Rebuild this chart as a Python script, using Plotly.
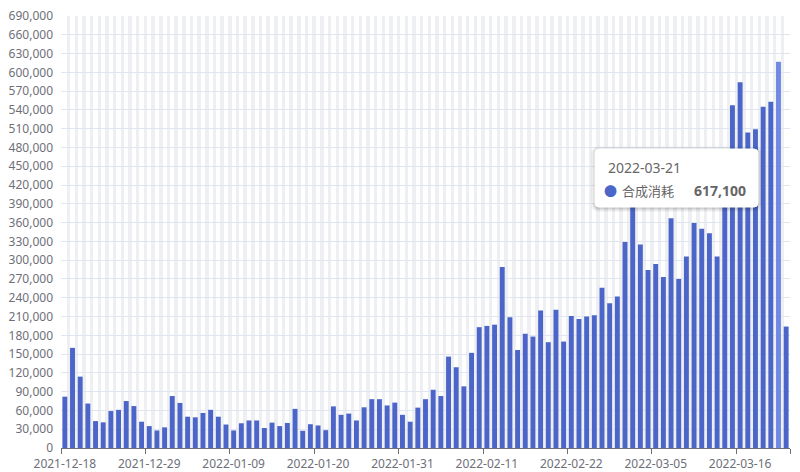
import plotly.graph_objects as go
import pandas as pd

# ---- data ----
dates = [d.strftime("%Y-%m-%d") for d in pd.date_range("2021-12-18", "2022-03-22", freq="D")]
values = [
    # 2021-12-18 .. 2021-12-31
    82000, 160000, 114000, 71000, 43000, 41000, 59000, 61000, 75000, 67000, 42000, 35000, 28000, 33000,
    # 2022-01
    83000, 72000, 50000, 49000, 56000, 61000, 50000, 37500, 28000, 39500,
    44000, 44000, 32000, 40500, 35000, 40000, 62500, 27500, 38000, 36000,
    28500, 66500, 53000, 55000, 44000, 65000, 78000, 78000, 68000, 72500, 53000,
    # 2022-02
    42000, 64500, 78000, 93000, 83000, 146000, 129000, 98500, 152000, 193000,
    195000, 197000, 289000, 209000, 156500, 182500, 178000, 219500, 169000, 221000,
    170000, 211000, 206000, 210000, 212000, 256000, 231000, 242000,
    # 2022-03
    329000, 415000, 325000, 284500, 294000, 273000, 367000, 270000, 306000, 359500,
    350000, 343000, 306000, 430000, 547500, 584000, 504000, 509000, 545000, 553000,
    617100, 194000,
]
series_name = "合成消耗"
highlight_date = "2022-03-21"
label_step = 11
y_max = 690000
y_step = 30000

BAR = "#4b66c8"
BAR_HI = "#7089e2"
TXT = "#6e7079"

n = len(dates)
colors = [BAR_HI if d == highlight_date else BAR for d in dates]
ticktext = [d if i % label_step == 0 else "" for i, d in enumerate(dates)]
boundary_ticks = [i - 0.5 for i in range(0, n, label_step)] + [n - 0.5]

fig = go.Figure()
fig.add_trace(go.Bar(x=dates, y=values, marker=dict(color=colors, line=dict(width=0)),
                     name=series_name, hoverinfo="skip"))
# helper trace for the boundary tick marks axis
fig.add_trace(go.Scatter(x=[-0.5, n - 0.5], y=[0, 0], xaxis="x2", mode="markers",
                         marker=dict(opacity=0), hoverinfo="skip", showlegend=False))

W, H = 800, 472
L, R, T, B = 61, 10, 16, 24
pw, ph = W - L - R, H - T - B


def px(X):
    return (X - L) / pw


def py(Y):
    return (H - B - Y) / ph


fig.update_layout(
    template="none",
    width=W, height=H,
    margin=dict(l=L, r=R, t=T, b=B, autoexpand=False),
    paper_bgcolor="white", plot_bgcolor="white",
    showlegend=False, bargap=0.36, hovermode=False,
    font=dict(family="Noto Sans, Noto Sans CJK SC, sans-serif", size=12, color=TXT),
    xaxis=dict(
        type="category", range=[-0.5, n - 0.5], automargin=False,
        tickmode="array", tickvals=dates, ticktext=ticktext,
        tickson="boundaries", ticks="", showgrid=True,
        gridcolor="#edeff3", gridwidth=3.5,
        showline=True, linecolor=TXT, linewidth=1,
        tickfont=dict(size=12, color=TXT), tickangle=0,
        ticklabelstandoff=5, zeroline=False, fixedrange=True,
    ),
    xaxis2=dict(
        overlaying="x", side="bottom", range=[-0.5, n - 0.5], automargin=False,
        tickmode="array", tickvals=boundary_ticks, ticks="outside", ticklen=5,
        tickcolor=TXT, showticklabels=False, showgrid=False, showline=False,
        zeroline=False, fixedrange=True,
    ),
    yaxis=dict(
        range=[0, y_max], dtick=y_step, tick0=0, tickformat=",", automargin=False,
        showgrid=True, gridcolor="#e0e6f1", gridwidth=1,
        showline=False, zeroline=False, ticks="",
        tickfont=dict(size=12, color=TXT), ticklabelstandoff=7, fixedrange=True,
    ),
)

# ---- tooltip ----
x0, x1, y0, y1, r = 595, 758, 149, 207, 4


def rrect(x0, y0, x1, y1, r):
    return (f"M {px(x0 + r)} {py(y0)} L {px(x1 - r)} {py(y0)} "
            f"Q {px(x1)} {py(y0)} {px(x1)} {py(y0 + r)} L {px(x1)} {py(y1 - r)} "
            f"Q {px(x1)} {py(y1)} {px(x1 - r)} {py(y1)} L {px(x0 + r)} {py(y1)} "
            f"Q {px(x0)} {py(y1)} {px(x0)} {py(y1 - r)} L {px(x0)} {py(y0 + r)} "
            f"Q {px(x0)} {py(y0)} {px(x0 + r)} {py(y0)} Z")


for k, op in [(4, 0.03), (3, 0.04), (2, 0.05), (1, 0.06)]:
    fig.add_shape(type="path", xref="paper", yref="paper",
                  path=rrect(x0 - k, y0 - k + 1, x1 + k, y1 + k + 1, r + k),
                  fillcolor=f"rgba(0,0,0,{op})", line=dict(width=0), layer="above")
fig.add_shape(type="path", xref="paper", yref="paper", path=rrect(x0, y0, x1, y1, r),
              fillcolor="white", line=dict(color="#ffffff", width=1), layer="above")

hi_idx = dates.index(highlight_date)
fig.add_annotation(xref="paper", yref="paper", x=px(606), y=py(167), xanchor="left", yanchor="middle",
                   text=dates[hi_idx], showarrow=False,
                   font=dict(family="Noto Sans, sans-serif", size=14, color="#666666"))
fig.add_annotation(xref="paper", yref="paper", x=px(610.5), y=py(190.5), xanchor="center", yanchor="middle",
                   text="●", showarrow=False, font=dict(size=13, color=BAR))
fig.add_annotation(xref="paper", yref="paper", x=px(620), y=py(190.5), xanchor="left", yanchor="middle",
                   text=series_name, showarrow=False,
                   font=dict(family="Noto Sans CJK SC, sans-serif", size=13, color="#666666"))
fig.add_annotation(xref="paper", yref="paper", x=px(748), y=py(190.5), xanchor="right", yanchor="middle",
                   text=f"<b>{values[hi_idx]:,}</b>", showarrow=False,
                   font=dict(family="Noto Sans, sans-serif", size=14, color="#666666"))

fig.write_html("out.html", config={"displayModeBar": False, "staticPlot": True},
               post_script="document.body.style.margin='0';document.body.style.padding='0';")
